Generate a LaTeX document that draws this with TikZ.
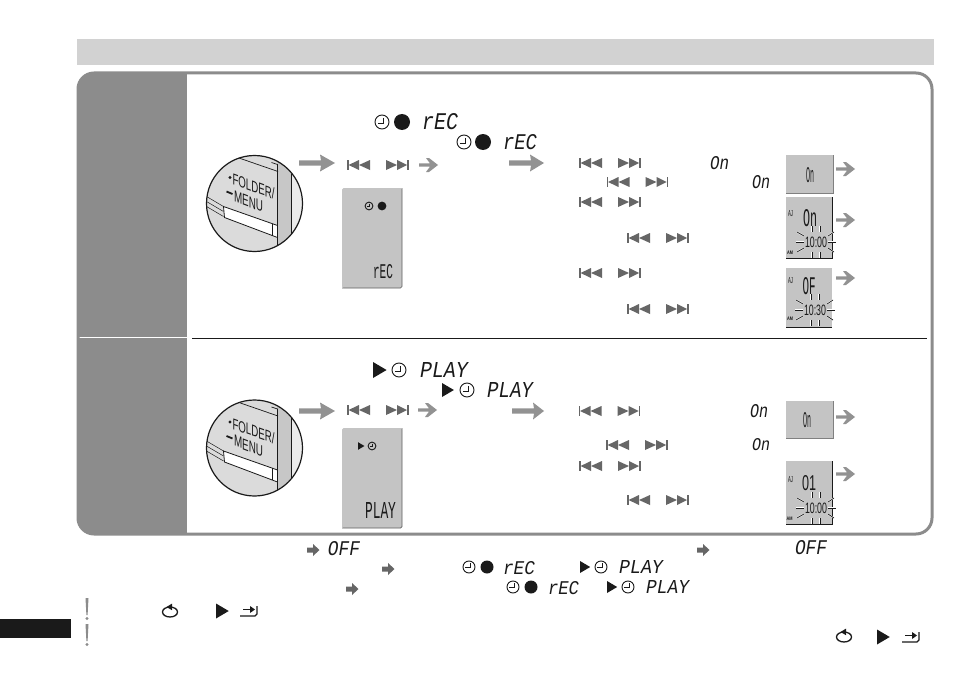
\documentclass[tikz,border=0pt]{standalone}
\usepackage{graphicx}
\usepackage{fontspec}
\setmainfont{Liberation Sans}
\newfontfamily\lcdfont{Liberation Mono}
\definecolor{bandgray}{HTML}{D2D2D2}
\definecolor{framegray}{HTML}{8C8C8C}
\definecolor{arrowgray}{HTML}{929292}
\definecolor{keygray}{HTML}{666666}
\definecolor{screengray}{HTML}{C4C4C4}
\definecolor{ink}{HTML}{1A1A1A}
% Segment-style display word, fitted to a width and a height in points
\newcommand{\lcdword}[3]{\resizebox{#1pt}{#2pt}{\lcdfont\itshape #3}}
\newcommand{\tallword}[3]{\resizebox{#1pt}{#2pt}{\lcdfont #3}}
% Display digits, fitted the same way
\newcommand{\digitword}[3]{\resizebox{#1pt}{#2pt}{#3}}
\tikzset{
  x=1pt, y=-1pt,
  word/.style={inner sep=0pt, outer sep=0pt, text=ink},
  pics/keyback/.style={code={
    \fill[keygray] (0,-5) rectangle (1.6,5);
    \fill[keygray] (1.6,0) -- (12,-5) -- (12,5) -- cycle;
    \fill[keygray] (12,0) -- (23,-5) -- (23,5) -- cycle;
  }},
  pics/keyfwd/.style={code={
    \fill[keygray] (0,-5) -- (0,5) -- (11,0) -- cycle;
    \fill[keygray] (11,-5) -- (11,5) -- (21,0) -- cycle;
    \fill[keygray] (21,-5) rectangle (22.6,5);
  }},
  pics/keypair/.style={code={
    \pic at (0,0) {keyback};
    \pic at (39,0) {keyfwd};
  }},
  pics/bigarrow/.style={code={
    \fill[arrowgray] (0,-2.6) -- (22,-2.6) -- (21,-8.5) -- (#1,0) -- (21,8.5) -- (22,2.6) -- (0,2.6) -- cycle;
  }},
  pics/smallarrow/.style={code={
    \fill[arrowgray] (0,-1.6) -- (11,-1.6) -- (7,-7) -- (10,-7) -- (19,0) -- (10,7) -- (7,7) -- (11,1.6) -- (0,1.6) -- cycle;
  }},
  pics/fatarrow/.style={code={
    \fill[keygray] (0,-2.5) -- (6,-2.5) -- (6,-6) -- (12.5,0) -- (6,6) -- (6,2.5) -- (0,2.5) -- cycle;
  }},
  pics/clockface/.style={code={
    \draw[ink, line width=0.9pt] (0,0) circle (#1);
    \draw[ink, line width=0.9pt] (0.2*#1,-0.6*#1) -- (0.2*#1,0.15*#1) -- (-0.6*#1,0.15*#1);
  }},
  pics/playmark/.style={code={
    \fill[ink] (0,-#1) -- (1.7*#1,0) -- (0,#1) -- cycle;
  }},
  pics/replaymark/.style={code={
    \draw[ink, line width=1.3pt] (0,0) circle [x radius=7.5, y radius=5];
    \fill[ink] (2,-8.4) -- (-3.5,-5) -- (2,-1.8) -- cycle;
  }},
  pics/entermark/.style={code={
    \draw[ink, line width=1.1pt] (0,5) -- (15,5) -- (17,3) -- (17,-5);
    \draw[ink, line width=1.1pt] (3,-1.5) -- (11,-1.5);
    \fill[ink] (10,-5) -- (15,-1.5) -- (10,2) -- cycle;
  }},
  pics/rays/.style={code={
    \foreach \rx/\ry/\sx/\sy in {-4/-16/-4/-10, 4/-16/4/-10, -4/10/-4/16, 4/10/4/16,
      -20/0/-12/0, 12/0/20/0, -19/-10/-12/-6, 12/-6/18/-10, -19/10/-12/6, 12/6/18/10}
      \draw[white, line width=1.5pt] (\rx,\ry) -- (\sx,\sy);
    \foreach \rx/\ry/\sx/\sy in {-4/-16/-4/-10, 4/-16/4/-10, -4/10/-4/16, 4/10/4/16,
      -20/0/-12/0, 12/0/20/0, -19/-10/-12/-6, 12/-6/18/-10, -19/10/-12/6, 12/6/18/10}
      \draw[ink, line width=0.7pt] (\rx,\ry) -- (\sx,\sy);
  }},
  pics/menubutton/.style={code={
    \begin{scope}
      \clip (0,0) circle (48);
      \fill[white] (-48,-48) rectangle (48,48);
      \fill[black!14] (-48,-48) -- (22.5,-48) -- (22.5,48) -- (-48,48) -- cycle;
      \fill[black!22] (22.5,-48) rectangle (36.5,48);
      \fill[black!8] (36.5,-48) rectangle (48,48);
      \draw[ink, line width=0.7pt] (-17,-46) -- (23.5,-32);
      \draw[ink, line width=0.7pt] (17,-41) -- (23,-39) -- (23,-32);
      \draw[ink, line width=0.8pt] (22.5,-34) -- (22.5,48);
      \draw[ink, line width=0.8pt] (36.5,-30) -- (36.5,48);
      \draw[ink, line width=0.5pt] (-48,-7) -- (-31,3);
      \draw[ink, line width=0.5pt] (-48,-2) -- (-31,8);
      \draw[ink, line width=0.5pt] (-48,3) -- (-31,13);
      \draw[ink, line width=0.8pt, fill=white] (-31,3) -- (23,22) -- (23,34) -- (-30,14) -- cycle;
      \draw[ink, line width=0.6pt] (18,20) -- (18,32);
      \fill[ink] (-24.5,-26) circle (1.7);
      \draw[ink, line width=1.8pt] (-28,-12) -- (-22,-9.5);
      \begin{scope}[shift={(-1,-17)}, yslant=-0.36]
        \node[word, transform shape] (folderword) at (0,0) {\resizebox{42pt}{11.5pt}{FOLDER/}};
      \end{scope}
      \begin{scope}[shift={(-6,-2)}, yslant=-0.38]
        \node[word, transform shape] (menuword) at (0,0) {\resizebox{29pt}{11pt}{MENU}};
      \end{scope}
    \end{scope}
    \draw[ink, line width=1.2pt] (0,0) circle (48);
  }}
}
\begin{document}
\begin{tikzpicture}
\useasboundingbox (0,0) rectangle (954,677);
\fill[white] (0,0) rectangle (954,677);

% Heading band
\fill[bandgray] (77,39) rectangle (934,65);

% Outer frame with its two grey side panels
\begin{scope}
  \clip[rounded corners=16pt] (78,73) rectangle (932,534);
  \fill[framegray] (78,73) rectangle (187,534);
  \fill[white] (78,336.5) rectangle (187,338);
\end{scope}
\draw[framegray, line width=3pt, rounded corners=16pt] (78,73) rectangle (932,534);
\draw[ink, line width=1pt] (192,338) -- (927,338);

% Recording timer: first row of symbols
\pic at (382,122) {clockface=7};
\fill[ink] (402,122) circle (8);
\node[word] (recA) at (440,122) {\lcdword{36}{16}{rEC}};
\pic at (464,142) {clockface=7};
\fill[ink] (483,142) circle (8);
\node[word] (recB) at (520,142) {\lcdword{34}{15}{rEC}};

\pic at (254.5,203.5) {menubutton};
\pic at (299,163) {bigarrow=36};
\pic at (347,165) {keypair};
\pic at (419,165) {smallarrow};

% Tall display of the recording timer
\fill[screengray, rounded corners=1.5pt] (342,188) rectangle (402,288);
\draw[ink!70, line width=0.7pt, rounded corners=1.5pt] (402,188) -- (402,288) -- (342,288);
\pic at (369,206) {clockface=3.9};
\fill[ink] (382,206) circle (4.4);
\node[word] (recScreen) at (383,272) {\tallword{20}{14}{rEC}};

\pic at (509,163) {bigarrow=35};
\pic at (579,163) {keypair};
\node[word] (onA) at (719.5,163) {\lcdword{19}{13}{On}};
\pic at (606.5,182) {keypair};
\node[word] (onB) at (761,182) {\lcdword{18}{13}{On}};
\pic at (579,202) {keypair};
\pic at (627,238) {keypair};
\pic at (579,273) {keypair};
\pic at (627,309) {keypair};

% Small displays, recording timer
\fill[screengray] (786,155) rectangle (833,193);
\draw[black!50, line width=1pt] (833,155) -- (833,193) -- (786,193);
\node[word] (onScreenA) at (810,175) {\tallword{8}{15}{On}};
\pic at (836,169) {smallarrow};

\fill[screengray] (786,197) rectangle (832,258);
\draw[ink, line width=0.8pt] (832,197) -- (832,258) -- (786,258);
\node[word] (onScreenB) at (810,218) {\tallword{14}{17}{On}};
\node[word] (alarmB) at (790.5,214) {\resizebox{5pt}{6pt}{AJ}};
\node[word] (amB) at (790,253) {\resizebox{6pt}{3.5pt}{\bfseries AM}};
\pic at (816,242) {rays};
\node[word] (timeB) at (816,242) {\digitword{22}{10.5}{10:00}};
\pic at (836,220) {smallarrow};

\fill[screengray] (786,268) rectangle (832,327);
\draw[ink, line width=0.8pt] (786,327) -- (832,327);
\node[word] (ofScreen) at (809,286) {\tallword{13}{17}{OF}};
\node[word] (alarmC) at (790.5,281) {\resizebox{5pt}{6pt}{AJ}};
\node[word] (amC) at (790,319) {\resizebox{6pt}{3.5pt}{\bfseries AM}};
\pic at (815,310) {rays};
\node[word] (timeC) at (815,310) {\digitword{22}{10.5}{10:30}};
\pic at (836,278) {smallarrow};

% Playback timer: first row of symbols
\pic at (373,370) {playmark=8};
\pic at (399,370) {clockface=7};
\node[word] (playA) at (444,370) {\lcdword{48}{15}{PLAY}};
\pic at (442,390) {playmark=7};
\pic at (467,390) {clockface=7};
\node[word] (playB) at (510,390) {\lcdword{46}{15}{PLAY}};

\pic at (254.5,448) {menubutton};
\pic at (299,411) {bigarrow=36};
\pic at (347,410) {keypair};
\pic at (418,410) {smallarrow};

% Tall display of the playback timer
\fill[screengray, rounded corners=1.5pt] (342,428) rectangle (402,528);
\draw[ink!70, line width=0.7pt, rounded corners=1.5pt] (402,428) -- (402,528) -- (342,528);
\pic at (358,446) {playmark=3.8};
\pic at (372,446) {clockface=3.9};
\node[word] (playScreen) at (380.5,510) {\tallword{31}{16}{PLAY}};

\pic at (512,411) {bigarrow=32};
\pic at (578.5,411) {keypair};
\node[word] (onC) at (759,411) {\lcdword{18}{13}{On}};
\pic at (606,445) {keypair};
\node[word] (onD) at (761,445) {\lcdword{18}{12}{On}};
\pic at (579,466) {keypair};
\pic at (627,500) {keypair};

% Small displays, playback timer
\fill[screengray] (786,401) rectangle (833,438);
\draw[black!50, line width=1pt] (833,401) -- (833,438) -- (786,438);
\node[word] (onScreenC) at (807,420) {\tallword{8}{15}{On}};
\pic at (836,417) {smallarrow};

\fill[screengray] (786,461) rectangle (832,524);
\draw[ink, line width=0.8pt] (832,461) -- (832,524) -- (786,524);
\node[word] (oneScreen) at (809,483) {\digitword{14}{15}{01}};
\node[word] (alarmD) at (790.5,480) {\resizebox{5pt}{6pt}{AJ}};
\node[word] (amD) at (789.5,519) {\resizebox{6pt}{3.5pt}{\bfseries AM}};
\pic at (816,508) {rays};
\node[word] (timeD) at (816,508) {\digitword{22}{10.5}{10:00}};
\pic at (836,474) {smallarrow};

% Lines beneath the frame
\pic at (307,550) {fatarrow};
\node[word] (offA) at (344,549) {\lcdword{32}{14}{OFF}};
\pic at (697,550) {fatarrow};
\node[word] (offB) at (811,548) {\lcdword{32}{14}{OFF}};

\pic at (382,569) {fatarrow};
\pic at (469,567) {clockface=6};
\fill[ink] (487,567) circle (6.5);
\node[word] (recC) at (519,568) {\lcdword{32}{13}{rEC}};
\pic at (580,567) {playmark=6};
\pic at (601,567) {clockface=6};
\node[word] (playC) at (641,567) {\lcdword{44}{13}{PLAY}};

\pic at (346,589) {fatarrow};
\pic at (513,587) {clockface=6};
\fill[ink] (531,587) circle (6.5);
\node[word] (recD) at (563.5,588) {\lcdword{31}{13}{rEC}};
\pic at (607,587) {playmark=6};
\pic at (628,587) {clockface=6};
\node[word] (playD) at (667.5,587) {\lcdword{43}{13}{PLAY}};

% Notes with their exclamation marks
\fill[black!45] (85.5,598) -- (88.5,598) -- (87.6,615) -- (86.4,615) -- cycle;
\fill[black!45] (87,618.5) circle (1.7);
\fill[black!45] (85.5,624) -- (88.5,624) -- (87.6,641) -- (86.4,641) -- cycle;
\fill[black!45] (87,644.5) circle (1.7);
\pic at (170,612) {replaymark};
\pic at (216,611) {playmark=7.5};
\pic at (240,611) {entermark};
\pic at (844,637) {replaymark};
\pic at (877,637) {playmark=7.5};
\pic at (902,637) {entermark};

% Black page tab
\fill[ink] (0,619) rectangle (71,638);
\end{tikzpicture}
\end{document}
